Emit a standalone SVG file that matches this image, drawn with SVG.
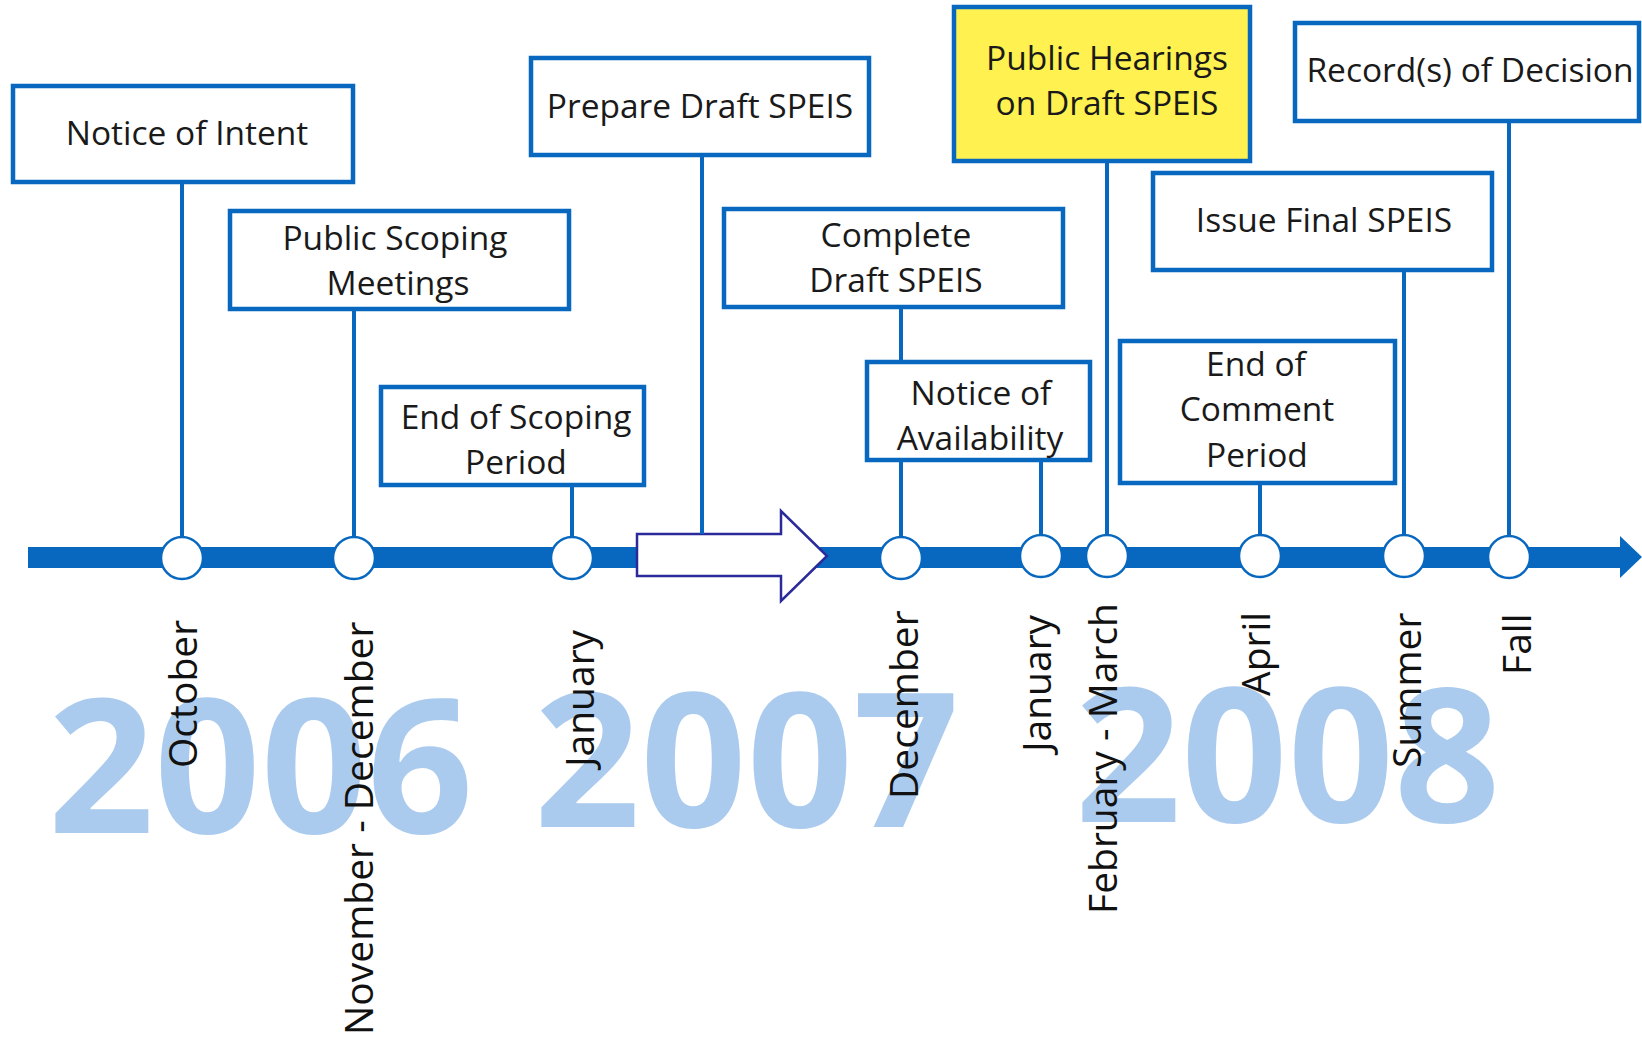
<svg xmlns="http://www.w3.org/2000/svg" width="1642" height="1037" viewBox="0 0 1642 1037">
<style>
.box{fill:#ffffff;stroke:#0868c0;stroke-width:4.5}
.hl{fill:#fff250}
.lbl{font-family:"Open Sans","Noto Sans",sans-serif;font-size:33.5px;fill:#1a1a1a;text-anchor:middle}
.mon{font-family:"Open Sans","Noto Sans",sans-serif;font-size:39px;fill:#111111}
.yr{font-family:"Open Sans","Noto Sans",sans-serif;font-size:186px;font-weight:bold;fill:#abcbee}
.con{stroke:#0868c0;stroke-width:4;fill:none}
.dot{fill:#ffffff;stroke:#0868c0;stroke-width:2.5}
</style>
<rect width="1642" height="1037" fill="#ffffff"/>
<g id="years">
<text class="yr" x="48" y="833">2006</text>
<text class="yr" x="534" y="827">2007</text>
<text class="yr" x="1075" y="822">2008</text>
</g>
<g id="axis">
<rect x="28" y="547" width="1596" height="21" fill="#0868c0"/>
<polygon points="1620,536 1642,557 1620,578" fill="#0868c0"/>
<polygon points="637,534 781,534 781,511 827,556 781,601 781,576 637,576" fill="#ffffff" stroke="#2a2a9a" stroke-width="2.5"/>
</g>
<g id="connectors">
<line class="con" x1="182" y1="182" x2="182" y2="537"/>
<line class="con" x1="354" y1="309" x2="354" y2="537"/>
<line class="con" x1="572" y1="485" x2="572" y2="537"/>
<line class="con" x1="702" y1="155" x2="702" y2="534"/>
<line class="con" x1="901" y1="307" x2="901" y2="362"/>
<line class="con" x1="901" y1="460" x2="901" y2="537"/>
<line class="con" x1="1041" y1="460" x2="1041" y2="537"/>
<line class="con" x1="1107" y1="161" x2="1107" y2="537"/>
<line class="con" x1="1260" y1="483" x2="1260" y2="537"/>
<line class="con" x1="1404" y1="270" x2="1404" y2="537"/>
<line class="con" x1="1509" y1="121" x2="1509" y2="537"/>
</g>
<g id="milestones">
<circle class="dot" cx="182" cy="558" r="21"/>
<circle class="dot" cx="354" cy="558" r="21"/>
<circle class="dot" cx="572" cy="558" r="21"/>
<circle class="dot" cx="901" cy="558" r="21"/>
<circle class="dot" cx="1041" cy="556" r="21"/>
<circle class="dot" cx="1107" cy="556" r="21"/>
<circle class="dot" cx="1260" cy="556" r="21"/>
<circle class="dot" cx="1404" cy="556" r="21"/>
<circle class="dot" cx="1509" cy="557" r="21"/>
</g>
<g id="n-notice-intent">
<rect class="box" x="13" y="86" width="340" height="96"/>
<text class="lbl" x="187" y="145">Notice of Intent</text>
</g>
<g id="n-public-scoping">
<rect class="box" x="230" y="211" width="339" height="98"/>
<text class="lbl" x="395" y="250">Public Scoping</text>
<text class="lbl" x="398" y="295">Meetings</text>
</g>
<g id="n-end-scoping">
<rect class="box" x="381" y="387" width="263" height="98"/>
<text class="lbl" x="516" y="429">End of Scoping</text>
<text class="lbl" x="516" y="474">Period</text>
</g>
<g id="n-prepare-draft">
<rect class="box" x="531" y="58" width="338" height="97"/>
<text class="lbl" x="700" y="118">Prepare Draft SPEIS</text>
</g>
<g id="n-complete-draft">
<rect class="box" x="724" y="209" width="339" height="98"/>
<text class="lbl" x="896" y="247">Complete</text>
<text class="lbl" x="896" y="292">Draft SPEIS</text>
</g>
<g id="n-notice-availability">
<rect class="box" x="867" y="362" width="223" height="98"/>
<text class="lbl" x="981" y="405">Notice of</text>
<text class="lbl" x="980" y="450">Availability</text>
</g>
<g id="n-public-hearings">
<rect class="box hl" x="954" y="7" width="296" height="154"/>
<text class="lbl" x="1107" y="70">Public Hearings</text>
<text class="lbl" x="1107" y="115">on Draft SPEIS</text>
</g>
<g id="n-record-decision">
<rect class="box" x="1295" y="23" width="344" height="98"/>
<text class="lbl" x="1470" y="82">Record(s) of Decision</text>
</g>
<g id="n-issue-final">
<rect class="box" x="1153" y="173" width="339" height="97"/>
<text class="lbl" x="1324" y="232">Issue Final SPEIS</text>
</g>
<g id="n-end-comment">
<rect class="box" x="1120" y="341" width="275" height="142"/>
<text class="lbl" x="1256" y="376">End of</text>
<text class="lbl" x="1257" y="421">Comment</text>
<text class="lbl" x="1257" y="467">Period</text>
</g>
<g id="months">
<text class="mon" transform="translate(197,768) rotate(-90)">October</text>
<text class="mon" transform="translate(373,1035) rotate(-90)">November - December</text>
<text class="mon" transform="translate(594,767) rotate(-90)">January</text>
<text class="mon" transform="translate(918,799) rotate(-90)">December</text>
<text class="mon" transform="translate(1051,752) rotate(-90)">January</text>
<text class="mon" transform="translate(1117,914) rotate(-90)">February - March</text>
<text class="mon" transform="translate(1270,696) rotate(-90)">April</text>
<text class="mon" transform="translate(1421,768) rotate(-90)">Summer</text>
<text class="mon" transform="translate(1531,675) rotate(-90)">Fall</text>
</g>
</svg>
